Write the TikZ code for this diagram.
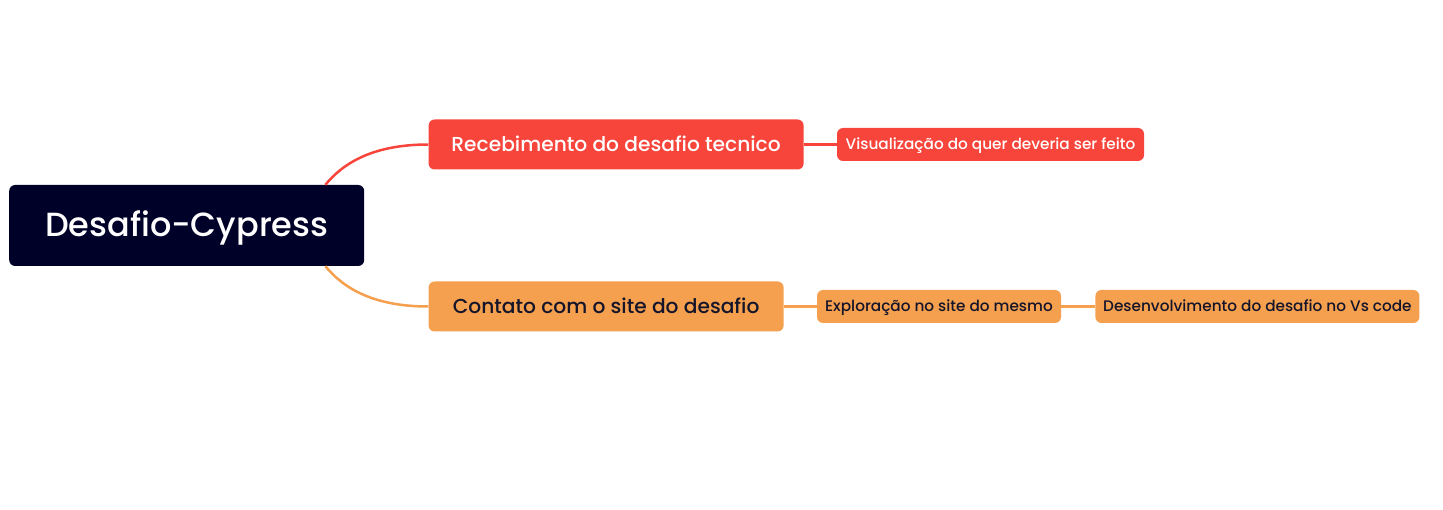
\documentclass[tikz,border=0pt]{standalone}
\usepackage{fontspec}
\setmainfont{Poppins}[UprightFont=* Medium]
\definecolor{mapnavy}{HTML}{000128}
\definecolor{mapred}{HTML}{F8453C}
\definecolor{maporange}{HTML}{F5A04E}
\definecolor{mapink}{HTML}{14142A}
\begin{document}
\begin{tikzpicture}
[
    x=1pt, y=1pt,
    grow'=right,
    growth parent anchor=east,
    every child node/.style={anchor=west},
    level 1/.style={level distance=64pt, sibling distance=162pt},
    level 2/.style={level distance=33pt, edge from parent path={(\tikzparentnode.east) -- (\tikzchildnode.west)}},
    level 3/.style={level distance=34pt, edge from parent path={(\tikzparentnode.east) -- (\tikzchildnode.west)}},
    edge from parent/.style={draw, line width=2.5pt},
    rootedge/.style 2 args={edge from parent path={([xshift=-39pt]\tikzparentnode.#1 east) .. controls +(18pt,#2) and +(-55pt,0pt) .. (\tikzchildnode.west)}},
    mapbox/.style={rounded corners=6pt},
    rootbox/.style={mapbox, fill=mapnavy, text=white, minimum width=355pt, minimum height=81pt, text height=31pt, text depth=8pt, font=\fontsize{33.5}{40}\selectfont},
    mainbox/.style={mapbox, minimum height=50pt, text height=19pt, text depth=5pt, font=\fontsize{20.2}{24}\selectfont},
    leafbox/.style={mapbox, minimum height=33pt, text height=14.5pt, text depth=3.8pt, font=\fontsize{15.3}{18}\selectfont},
]
\useasboundingbox (0,0) rectangle (1443,-510);
\node [rootbox, anchor=west] (root) at (9,-225.5)
{Desafio-Cypress}
    child [mapred, rootedge={north}{22pt}] {node[mainbox, fill=mapred, text=white, minimum width=375pt] (receb)
{Recebimento do desafio tecnico}
    child {node[leafbox, fill=mapred, text=white, minimum width=307pt] (visual)
{Visualização do quer deveria ser feito}
}}
    child [maporange, rootedge={south}{-22pt}] {node[mainbox, fill=maporange, text=mapink, minimum width=355pt] (contato)
{Contato com o site do desafio}
    child {node[leafbox, fill=maporange, text=mapink, minimum width=244pt] (explor)
{Exploração no site do mesmo}
    child {node[leafbox, fill=maporange, text=mapink, minimum width=324pt] (desenv)
{Desenvolvimento do desafio no Vs code}
}}};
\end{tikzpicture}
\end{document}
